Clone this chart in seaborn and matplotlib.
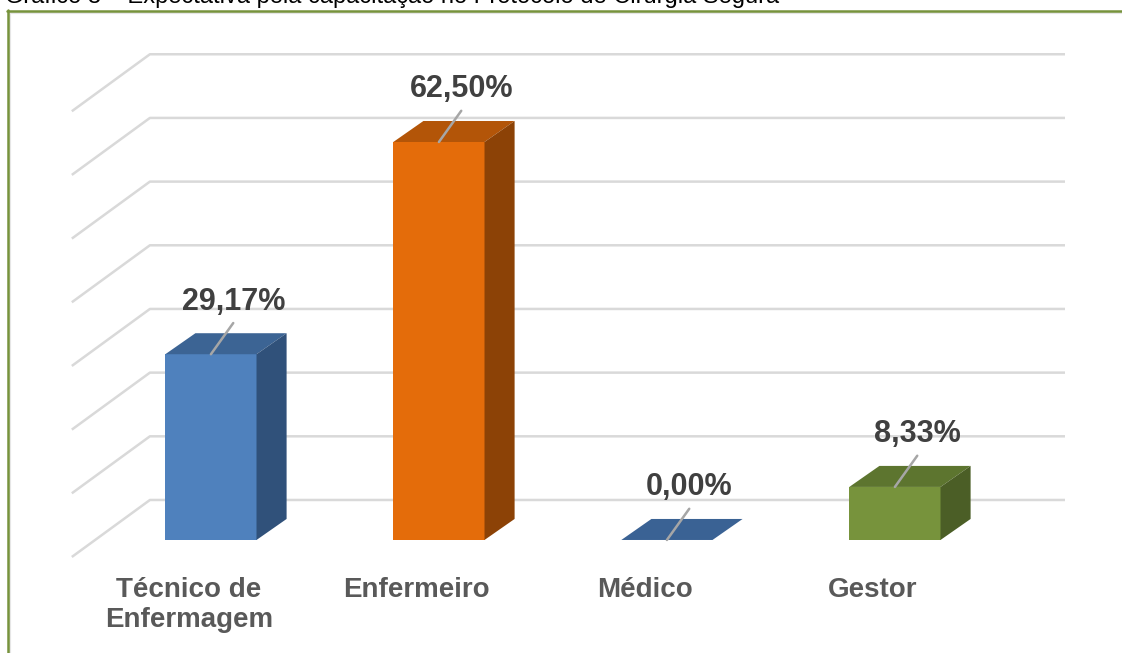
import numpy as np
import pandas as pd
import seaborn as sns
import matplotlib.pyplot as plt
from matplotlib.patches import Polygon
from matplotlib.lines import Line2D

# --- data -------------------------------------------------------------
categories = ["Técnico de\nEnfermagem", "Enfermeiro", "Médico", "Gestor"]
values = [29.17, 62.50, 0.00, 8.33]
value_labels = ["29,17%", "62,50%", "0,00%", "8,33%"]
grid_values = [0, 10, 20, 30, 40, 50, 60, 70]
title = "Gráfico 3 – Expectativa pela capacitação no Protocolo de Cirurgia Segura"

# --- colours per bar (front face, top face, side face) -----------------
front_colors = ["#4f81bd", "#e46c0a", "#4f81bd", "#77933c"]
top_colors = ["#3c6494", "#b35508", "#3a6294", "#5d752f"]
side_colors = ["#30517a", "#8c4206", "#30517a", "#4b5e26"]

# --- 3D projection parameters (data units) ------------------------------
DX, DY = 0.132, 3.3            # bar depth offset
WALL_BACK, WALL_FRONT = 6.28, -2.67   # gridline height offsets back/front
X_FLOOR_FRONT, X_WALL_LEFT, X_WALL_RIGHT = -0.61, -0.2675, 3.746
LDX, LDY, LABEL_DY = 0.098, 4.9, 7.0   # leader line and label offsets

sns.set_theme(style="white")
plt.rcParams['font.family'] = ['Liberation Sans', 'DejaVu Sans']

fig = plt.figure(figsize=(11.22, 6.53), dpi=100)
ax = fig.add_axes([0, 0, 1, 1])

df = pd.DataFrame({"cat": categories, "val": values})
sns.barplot(data=df, x="cat", y="val", hue="cat", palette=front_colors,
            width=0.4, saturation=1, linewidth=0, legend=False, ax=ax,
            zorder=3)

ax.set_xlim(-0.925, 3.996)
ax.set_ylim(-17.75, 84.8)
ax.axis("off")

# perspective gridlines: diagonal floor segment + back-wall line
for v in grid_values:
    ax.plot([X_FLOOR_FRONT, X_WALL_LEFT, X_WALL_RIGHT],
            [v + WALL_FRONT, v + WALL_BACK, v + WALL_BACK],
            color="#d9d9d9", lw=1.8, zorder=1, solid_capstyle="butt")

# top and side faces of every bar, built from the front-face geometry
bars = [b for c in ax.containers for b in c]
for i, bar in enumerate(bars):
    x0, w, h = bar.get_x(), bar.get_width(), bar.get_height()
    top = Polygon([(x0, h), (x0 + w, h), (x0 + w + DX, h + DY), (x0 + DX, h + DY)],
                  closed=True, facecolor=top_colors[i], edgecolor="none", zorder=4)
    ax.add_patch(top)
    if h > 0:
        side = Polygon([(x0 + w, 0), (x0 + w + DX, DY), (x0 + w + DX, h + DY), (x0 + w, h)],
                       closed=True, facecolor=side_colors[i], edgecolor="none", zorder=4)
        ax.add_patch(side)
    xc = x0 + w / 2
    ax.plot([xc, xc + LDX], [h, h + LDY], color="#a6a6a6", lw=1.8, zorder=5)
    ax.text(xc + LDX, h + LABEL_DY, value_labels[i], ha="center", va="baseline",
            fontsize=22, fontweight="bold", color="#404040", zorder=6)

# category labels along the floor edge
for i, cat in enumerate(categories):
    ax.text(i - 0.0965, -5.85, cat, ha="center", va="top", fontsize=20,
            fontweight="bold", color="#595959", linespacing=1.2)

# caption running off the top edge
fig.text(5 / 1122, 1 - 3 / 653, title, ha="left", va="baseline",
         fontsize=17, color="black")

# chart frame (top and left edges)
W, H = 1122, 653
fig.add_artist(Line2D([9 / W, 1], [1 - 12.5 / H] * 2, color="#e6e6e6", lw=1.5,
                      transform=fig.transFigure))
fig.add_artist(Line2D([9.5 / W] * 2, [0, 1 - 12 / H], color="#e6e6e6", lw=1.5,
                      transform=fig.transFigure))
fig.add_artist(Line2D([7 / W, 1], [1 - 10.5 / H] * 2, color="#77933c", lw=1.8,
                      transform=fig.transFigure))
fig.add_artist(Line2D([7.5 / W] * 2, [0, 1 - 10 / H], color="#77933c", lw=1.8,
                      transform=fig.transFigure))

fig.savefig("out.png", dpi=100)
